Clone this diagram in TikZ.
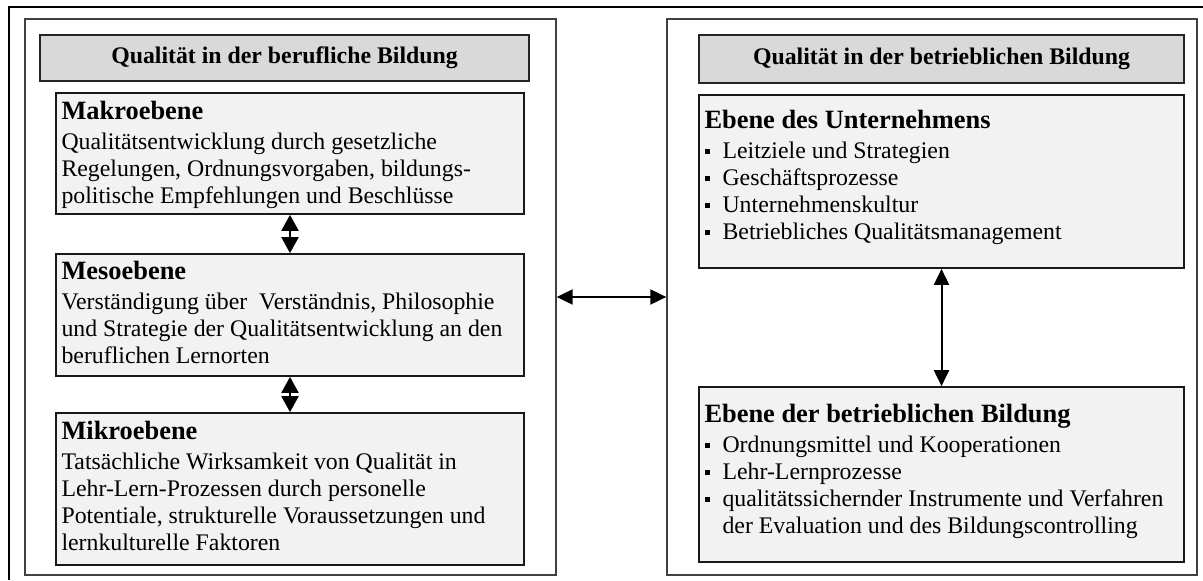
\documentclass[tikz,border=0pt]{standalone}
\usepackage{fontspec}
\setmainfont{Liberation Serif}
\usetikzlibrary{arrows.meta,positioning,fit}
\newcommand{\lightfill}{black!5}
\newcommand{\darkfill}{black!15}
\newcommand{\sqitem}{\makebox[9pt][l]{\raisebox{2pt}{\rule{2.8pt}{2.8pt}}}}

\tikzset{
  panel/.style={draw=black!75, line width=0.65pt, inner sep=0pt},
  titlebox/.style={draw=black!85, fill=\darkfill, line width=0.9pt, inner sep=0pt, font=\bfseries\fontsize{11.9}{14}\selectfont},
  levelbox/.style={draw=black!90, fill=\lightfill, line width=0.85pt, inner sep=0pt},
  levelhead/.style={anchor=north west, inner sep=0pt, text depth=0pt, font=\bfseries\fontsize{13.2}{15}\selectfont},
  leveltext/.style={align=left, inner sep=0pt, font=\fontsize{11.9}{13.5}\selectfont},
  updown/.style={{Triangle[length=8pt,width=8.5pt]}-{Triangle[length=8pt,width=8.5pt]}, line width=1.1pt},
  link/.style={{Triangle[length=8pt,width=7.5pt]}-{Triangle[length=8pt,width=7.5pt]}, line width=1pt}
}

\begin{document}
\begin{tikzpicture}[x=0.5pt,y=-0.5pt]
  \useasboundingbox (0,0) rectangle (1203,580);
  \draw[line width=1.4pt] (1203,7) -- (9,7) -- (9,580);
  %\draw[help lines,step=50] (0,0) grid (1203,580);

  % berufliche Bildung
  \node[panel, fit={(25,19) (556,575)}] (berufl) {};
  \node[titlebox, minimum width=244.5pt, minimum height=23pt] (beruflT) at (284.5,58) {Qualität in der berufliche Bildung};
  \node[levelbox, fit={(56,93) (524,214)}] (makro) {};
  \node[levelbox, fit={(56,254) (524,376)}] (meso) {};
  \node[levelbox, fit={(56,413) (524,565)}] (mikro) {};

  \node[levelhead] (makroH) at ([shift={(6,9)}]makro.north west) {Makroebene};
  \node[leveltext, below right=6pt and 0pt of makroH.south west] (makroT)
    {Qualitätsentwicklung durch gesetzliche\\
     Regelungen, Ordnungsvorgaben, bildungs-\\
     politische Empfehlungen und Beschlüsse};
  \node[levelhead] (mesoH) at ([shift={(6,8)}]meso.north west) {Mesoebene};
  \node[leveltext, below right=6pt and 0pt of mesoH.south west] (mesoT)
    {Verständigung über~ Verständnis, Philosophie\\
     und Strategie der Qualitätsentwicklung an den\\
     beruflichen Lernorten};
  \node[levelhead] (mikroH) at ([shift={(6,9)}]mikro.north west) {Mikroebene};
  \node[leveltext, below right=6pt and 0pt of mikroH.south west] (mikroT)
    {Tatsächliche Wirksamkeit von Qualität in\\
     Lehr-Lern-Prozessen durch personelle\\
     Potentiale, strukturelle Voraussetzungen und\\
     lernkulturelle Faktoren};

  \draw[updown] (makro.south) -- (meso.north);
  \draw[updown] (meso.south) -- (mikro.north);

  % betriebliche Bildung
  \node[panel, fit={(667,19) (1197,575)}] (betriebl) {};
  \node[titlebox, minimum width=242.5pt, minimum height=24pt] (betrieblT) at (941.5,59) {Qualität in der betrieblichen Bildung};
  \node[levelbox, fit={(699,95) (1184,268)}] (unternehmen) {};
  \node[levelbox, fit={(699,387) (1184,562)}] (bildung) {};

  \node[levelhead] (unternehmenH) at ([shift={(6,16)}]unternehmen.north west) {Ebene des Unternehmens};
  \node[leveltext, below right=6pt and 0pt of unternehmenH.south west] (unternehmenT)
    {\sqitem Leitziele und Strategien\\
     \sqitem Geschäftsprozesse\\
     \sqitem Unternehmenskultur\\
     \sqitem Betriebliches Qualitätsmanagement};
  \node[levelhead] (bildungH) at ([shift={(6,18)}]bildung.north west) {Ebene der betrieblichen Bildung};
  \node[leveltext, below right=6pt and 0pt of bildungH.south west] (bildungT)
    {\sqitem Ordnungsmittel und Kooperationen\\
     \sqitem Lehr-Lernprozesse\\
     \sqitem qualitätssichernder Instrumente und Verfahren\\
     \hspace*{9pt}der Evaluation und des Bildungscontrolling};

  \draw[link] (unternehmen.south) -- (bildung.north);
  \draw[link] (berufl) -- (betriebl);
\end{tikzpicture}
\end{document}
